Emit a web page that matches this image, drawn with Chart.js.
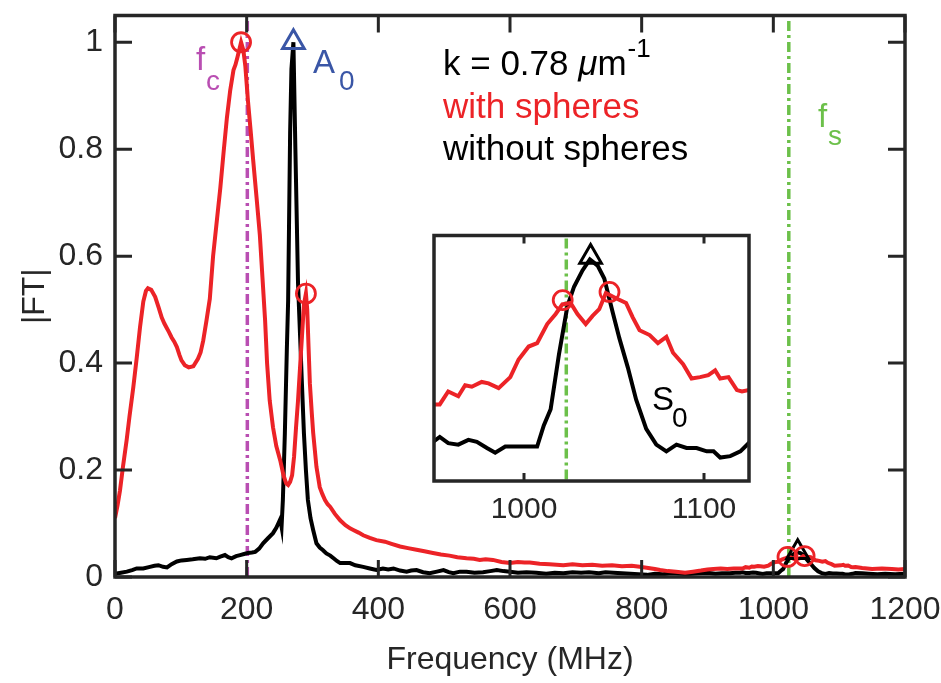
<!DOCTYPE html>
<html>
<head>
<meta charset="utf-8">
<script src="https://cdn.jsdelivr.net/npm/chart.js@4.4.1/dist/chart.umd.min.js"></script>
<style>
  body { margin: 0; background: #fff; }
  #wrap { position: relative; width: 941px; height: 683px; }
  #main { position: absolute; left: 0; top: 0; }
  #inset { position: absolute; left: 380px; top: 220px; }
</style>
</head>
<body>
<div id="wrap">
  <canvas id="main" width="941" height="683"></canvas>
  <canvas id="inset" width="420" height="310"></canvas>
</div>
<script>
const SANS = "'Liberation Sans', Arial, sans-serif";
const RED = '#ec2327';
const BLUE = '#3a56a6';
const MAGENTA = '#b94eb2';
const GREEN = '#6cc04a';
const AXIS = '#262626';

// axes
const xTicks = [0, 200, 400, 600, 800, 1000, 1200];
const yTicks = [0, 0.2, 0.4, 0.6, 0.8, 1];
const insetTicks = [1000, 1100];

// characteristic frequencies (MHz)
const fc = 201;
const fs = 1023.5;

// |FT| with spheres
const redFreq = [0, 4, 7.6, 12, 17.7, 22, 27.8, 33, 38, 43, 47, 50, 55, 61, 66, 71, 75, 78, 82, 86, 90, 94, 98, 101, 106, 112, 119, 126, 130, 134,
  139, 144, 149, 155, 160, 165, 170, 175, 180, 183, 186, 191.5, 195, 198, 202, 206, 210, 215, 220, 224, 228, 231, 235, 240, 245, 251, 256, 260, 263, 266,
  269, 272, 275, 278, 281, 284, 287, 290, 292, 294, 296, 299, 301, 306, 311, 315, 319, 323, 327, 334, 342, 350, 357, 362, 370, 377, 387, 397, 410, 420,
  433, 445, 458, 470, 483, 495, 508, 520, 534, 545, 554, 563, 574, 587, 600, 612, 622, 630, 645, 660, 681, 695, 710, 725, 740, 755, 770, 785, 797, 810,
  820, 828, 840, 852, 866, 878, 890, 900, 909, 920, 930, 940,
  949.5, 953.2, 957.9, 963.5, 967.3, 971, 976.5, 980.3, 985.9, 992.4, 997, 1002.6, 1007.3, 1012.9, 1017.6, 1021.3, 1025.9, 1029.7, 1034.3, 1038.1,
  1041.8, 1045.5, 1051.1, 1056.7, 1060.4, 1064.2, 1069.8, 1074.4, 1079.1, 1082.8, 1088.4, 1093.1, 1097.8, 1102.4, 1106.2, 1109, 1113.6, 1118.3, 1121.1, 1124.8,
  1135, 1150, 1165, 1180, 1190, 1200];
const redAmp = [0.11, 0.135, 0.162, 0.205, 0.256, 0.3, 0.355, 0.41, 0.467, 0.515, 0.535, 0.54, 0.537, 0.524, 0.505, 0.485, 0.474, 0.467, 0.458, 0.448, 0.44, 0.43, 0.415, 0.405, 0.396, 0.392, 0.394, 0.408, 0.42, 0.442,
  0.48, 0.52, 0.6, 0.67, 0.728, 0.795, 0.859, 0.91, 0.948, 0.958, 0.972, 1.0, 0.985, 0.955, 0.89, 0.835, 0.778, 0.71, 0.64, 0.56, 0.48, 0.4, 0.33, 0.28, 0.245, 0.218, 0.19, 0.175, 0.172, 0.178,
  0.19, 0.225, 0.28, 0.33, 0.39, 0.45, 0.51, 0.53, 0.5, 0.43, 0.362, 0.305, 0.27, 0.206, 0.168, 0.155, 0.144, 0.136, 0.131, 0.118, 0.106, 0.097, 0.091, 0.088, 0.083, 0.078, 0.073, 0.069, 0.066, 0.062,
  0.057, 0.054, 0.051, 0.048, 0.045, 0.042, 0.04, 0.037, 0.035, 0.034, 0.032, 0.033, 0.032, 0.028, 0.026, 0.028, 0.027, 0.027, 0.025, 0.024, 0.022, 0.024, 0.022, 0.023, 0.021, 0.022, 0.02, 0.021, 0.019, 0.017,
  0.015, 0.013, 0.011, 0.01, 0.008, 0.01, 0.012, 0.014, 0.015, 0.016, 0.015, 0.016,
  0.0157, 0.0157, 0.0184, 0.0174, 0.0197, 0.0194, 0.0204, 0.0201, 0.0191, 0.0214, 0.0251, 0.0278, 0.0285, 0.0325, 0.0346, 0.0366, 0.0369, 0.0346, 0.0325, 0.0342,
  0.0356, 0.039, 0.0379, 0.0369, 0.0339, 0.0312, 0.0302, 0.0285, 0.0298, 0.0265, 0.0241, 0.0211, 0.0214, 0.0218, 0.0228, 0.0211, 0.0214, 0.0187, 0.0184, 0.0187,
  0.017, 0.015, 0.016, 0.015, 0.014, 0.015];

// |FT| without spheres
const blackFreq = [0, 9, 18, 26, 33, 43, 53, 60, 66, 73, 79, 86, 94, 101, 109, 118, 129, 137, 144, 154, 160, 167, 172, 177, 184, 190, 196, 202, 208, 213,
  219, 225, 232, 240, 245, 248, 251, 253, 255, 258, 261, 263, 266, 268, 271, 274, 278, 281, 284, 287, 290, 293, 297, 301, 306, 311, 316, 321, 327, 332,
  337, 342, 350, 357, 365, 377, 387, 397, 407, 415, 423, 433, 443, 450, 458, 468, 478, 489, 499, 507, 514, 524, 534, 546, 559, 570, 580, 590, 600, 612,
  625, 640, 655, 668, 681, 695, 708, 720, 735, 745, 757, 770, 783, 795, 808, 820, 832, 845, 858, 870, 885, 900, 912, 922, 934, 942,
  949.5, 953.2, 957.9, 963.5, 969.1, 973.8, 979.4, 984, 989.6, 995.2, 1001.7, 1007.3, 1011, 1014.8, 1019.4, 1024.1, 1027.8, 1032.5, 1036.6, 1040.9,
  1044.6, 1049.3, 1053, 1057.7, 1062.3, 1067.9, 1073.5, 1079.1, 1084.7, 1090.3, 1095.9, 1101.5, 1105.3, 1109, 1114.6, 1120.2, 1124.8,
  1135, 1145, 1158, 1170, 1185, 1200];
const blackAmp = [0.006, 0.008, 0.01, 0.013, 0.016, 0.016, 0.019, 0.021, 0.022, 0.019, 0.018, 0.024, 0.029, 0.031, 0.032, 0.033, 0.035, 0.034, 0.037, 0.035, 0.038, 0.041, 0.037, 0.035, 0.039, 0.041, 0.043, 0.045, 0.046, 0.047,
  0.053, 0.063, 0.072, 0.082, 0.092, 0.1, 0.108, 0.094, 0.144, 0.268, 0.424, 0.517, 0.83, 0.95, 1.0, 0.8, 0.55, 0.455, 0.36, 0.268, 0.2, 0.144, 0.11, 0.088, 0.063, 0.055, 0.05, 0.044, 0.04, 0.035,
  0.03, 0.026, 0.026, 0.026, 0.022, 0.019, 0.016, 0.013, 0.016, 0.014, 0.016, 0.012, 0.01, 0.012, 0.013, 0.009, 0.007, 0.01, 0.013, 0.009, 0.007, 0.01, 0.01, 0.008, 0.009, 0.011, 0.013, 0.011, 0.01, 0.008,
  0.009, 0.008, 0.006, 0.008, 0.007, 0.009, 0.008, 0.009, 0.007, 0.009, 0.008, 0.007, 0.006, 0.005, 0.004, 0.006, 0.005, 0.007, 0.006, 0.005, 0.007, 0.008, 0.006, 0.007, 0.007, 0.008,
  0.0079, 0.0089, 0.0076, 0.0073, 0.0083, 0.0079, 0.0066, 0.0056, 0.0069, 0.0069, 0.0069, 0.0069, 0.0113, 0.0147, 0.0261, 0.0362, 0.0403, 0.0437, 0.046, 0.0447,
  0.042, 0.0349, 0.0295, 0.0234, 0.0167, 0.0106, 0.0073, 0.0059, 0.0073, 0.0066, 0.0066, 0.0059, 0.0059, 0.0046, 0.0049, 0.0059, 0.0076,
  0.007, 0.006, 0.005, 0.006, 0.005, 0.006];

// picked peaks
const circleFreq = [191.5, 290, 1021.5, 1047.5];
const circleAmp = [1.0, 0.53, 0.0375, 0.0392];
const a0Freq = [271];
const a0Amp = [1.0];
const s0Freq = [1037];
const s0Amp = [0.0465];

function pts(xs, ys) {
  return xs.map((x, i) => ({ x: x, y: ys[i] }));
}

function buildDatasets() {
  const hollow = 'rgba(0,0,0,0)';
  return [
    { data: pts(circleFreq, circleAmp), showLine: false, pointStyle: 'circle', pointRadius: 9.5,
      pointBorderWidth: 2.8, pointBorderColor: RED, pointBackgroundColor: hollow },
    { data: pts(a0Freq, a0Amp), showLine: false, pointStyle: 'triangle', pointRadius: 12.5,
      pointBorderWidth: 3, pointBorderColor: BLUE, pointBackgroundColor: hollow },
    { data: pts(s0Freq, s0Amp), showLine: false, pointStyle: 'triangle', pointRadius: 12.5,
      pointBorderWidth: 3, pointBorderColor: '#000', pointBackgroundColor: hollow },
    { data: pts(redFreq, redAmp), borderColor: RED, borderWidth: 4, pointRadius: 0 },
    { data: pts(blackFreq, blackAmp), borderColor: '#000', borderWidth: 4, pointRadius: 0 },
    { data: [{ x: fc, y: 0 }, { x: fc, y: 1.05 }], borderColor: MAGENTA, borderWidth: 3.5, borderDash: [10, 4, 3, 4], pointRadius: 0 },
    { data: [{ x: fs, y: 0 }, { x: fs, y: 1.05 }], borderColor: GREEN, borderWidth: 3.5, borderDash: [10, 4, 3, 4], pointRadius: 0 }
  ];
}

// box with inward ticks, matlab style
const framePlugin = {
  id: 'frame',
  beforeDraw(chart, args, opts) {
    if (!opts.fill) return;
    const a = chart.chartArea;
    chart.ctx.save();
    chart.ctx.fillStyle = '#fff';
    chart.ctx.fillRect(a.left, a.top, a.width, a.height);
    chart.ctx.restore();
  },
  afterDatasetsDraw(chart, args, opts) {
    const { ctx, chartArea: a, scales } = chart;
    ctx.save();
    ctx.strokeStyle = AXIS;
    ctx.lineWidth = opts.width;
    ctx.beginPath();
    scales.x.ticks.forEach(t => {
      const px = scales.x.getPixelForValue(t.value);
      ctx.moveTo(px, a.bottom); ctx.lineTo(px, a.bottom - opts.len);
      ctx.moveTo(px, a.top); ctx.lineTo(px, a.top + opts.len);
    });
    if (scales.y.options.display) {
      scales.y.ticks.forEach(t => {
        const py = scales.y.getPixelForValue(t.value);
        ctx.moveTo(a.left, py); ctx.lineTo(a.left + opts.len, py);
        ctx.moveTo(a.right, py); ctx.lineTo(a.right - opts.len, py);
      });
    }
    ctx.stroke();
    ctx.lineWidth = opts.box;
    ctx.strokeRect(a.left, a.top, a.width, a.height);
    ctx.restore();
  },
  afterDraw(chart, args, opts) {
    if (opts.notes) opts.notes(chart.ctx);
  }
};

function txt(ctx, s, x, y, size, color, style) {
  ctx.font = (style || 'normal') + ' ' + size + 'px ' + SANS;
  ctx.fillStyle = color;
  ctx.textBaseline = 'alphabetic';
  ctx.textAlign = 'left';
  ctx.fillText(s, x, y);
  return x + ctx.measureText(s).width;
}

function mainNotes(ctx) {
  txt(ctx, 'f', 196, 70, 33, MAGENTA);
  txt(ctx, 'c', 206, 90, 28, MAGENTA);
  txt(ctx, 'A', 313, 73, 33, BLUE);
  txt(ctx, '0', 339, 90, 28, BLUE);
  let x = txt(ctx, 'k = 0.78 ', 443, 75, 35, '#000');
  x = txt(ctx, '\u03bc', x, 75, 35, '#000', 'italic');
  x = txt(ctx, 'm', x, 75, 35, '#000');
  txt(ctx, '-1', x + 1, 57, 26, '#000');
  txt(ctx, 'with spheres', 443, 118, 35, RED);
  txt(ctx, 'without spheres', 443, 160, 35, '#000');
  txt(ctx, 'f', 818, 127, 33, GREEN);
  txt(ctx, 's', 828, 145, 28, GREEN);
}

function insetNotes(ctx) {
  txt(ctx, 'S', 272, 190, 33, '#000');
  txt(ctx, '0', 292, 207, 28, '#000');
}

function axisTicks(values) {
  return scale => { scale.ticks = values.map(v => ({ value: v })); };
}

new Chart(document.getElementById('main'), {
  type: 'line',
  data: { datasets: buildDatasets() },
  plugins: [framePlugin],
  options: {
    responsive: false,
    animation: false,
    events: [],
    layout: { padding: { top: 14, right: 36, left: 0, bottom: 0 } },
    elements: { line: { tension: 0 } },
    plugins: {
      legend: { display: false },
      tooltip: { enabled: false },
      frame: { len: 17, width: 3, box: 3.5, notes: mainNotes }
    },
    scales: {
      x: {
        type: 'linear', min: 0, max: 1200,
        afterBuildTicks: axisTicks(xTicks),
        afterFit: s => { s.height = 106; s.paddingLeft = 0; s.paddingRight = 0; },
        grid: { display: false, drawTicks: false },
        border: { display: false },
        ticks: { color: AXIS, padding: 14, maxRotation: 0, font: { family: SANS, size: 32 },
          callback: v => String(v) },
        title: { display: true, text: 'Frequency (MHz)', color: AXIS, padding: { top: 0, bottom: 4 },
          font: { family: SANS, size: 32 } }
      },
      y: {
        type: 'linear', min: 0, max: 1.05,
        afterBuildTicks: axisTicks(yTicks),
        afterFit: s => { s.width = 115; s.paddingTop = 0; s.paddingBottom = 0; },
        grid: { display: false, drawTicks: false },
        border: { display: false },
        ticks: { color: AXIS, padding: 12, font: { family: SANS, size: 32 },
          callback: v => String(+v.toFixed(1)) },
        title: { display: true, text: '|FT|', color: AXIS, padding: { top: 16, bottom: 0 },
          font: { family: SANS, size: 32 } }
      }
    }
  }
});

new Chart(document.getElementById('inset'), {
  type: 'line',
  data: { datasets: buildDatasets() },
  plugins: [framePlugin],
  options: {
    responsive: false,
    animation: false,
    events: [],
    layout: { padding: { top: 8, right: 51, left: 54, bottom: 0 } },
    elements: { line: { tension: 0 } },
    plugins: {
      legend: { display: false },
      tooltip: { enabled: false },
      frame: { len: 8, width: 3, box: 3.5, fill: true, notes: insetNotes }
    },
    scales: {
      x: {
        type: 'linear', min: 950, max: 1125,
        afterBuildTicks: axisTicks(insetTicks),
        afterFit: s => { s.height = 49; s.paddingLeft = 0; s.paddingRight = 0; },
        grid: { display: false, drawTicks: false },
        border: { display: false },
        ticks: { color: AXIS, padding: 11, maxRotation: 0, font: { family: SANS, size: 30 },
          callback: v => String(v) }
      },
      y: {
        type: 'linear', min: -0.0003, max: 0.051,
        display: false
      }
    }
  }
});
</script>
</body>
</html>
